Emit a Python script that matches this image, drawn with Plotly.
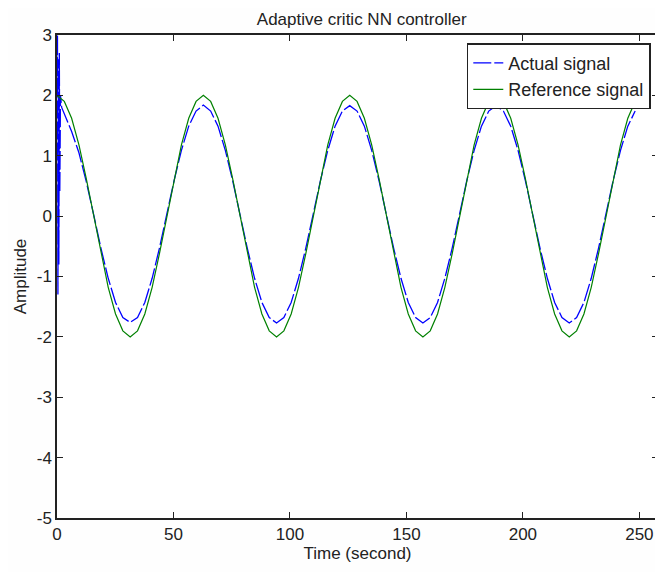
import plotly.graph_objects as go

# uniform sampling grid (seconds), 81 samples up to ~251 s
time = [round(k * 3.1416, 2) for k in range(81)]

reference_signal = [
    2.00, 1.90, 1.62, 1.18, 0.62, 0.00, -0.62, -1.18, -1.62, -1.90,
    -2.00, -1.90, -1.62, -1.18, -0.62, 0.00, 0.62, 1.18, 1.62, 1.90,
    2.00, 1.90, 1.62, 1.18, 0.62, 0.00, -0.62, -1.18, -1.62, -1.90,
    -2.00, -1.90, -1.62, -1.18, -0.62, 0.00, 0.62, 1.18, 1.62, 1.90,
    2.00, 1.90, 1.62, 1.18, 0.62, 0.00, -0.62, -1.18, -1.62, -1.90,
    -2.00, -1.90, -1.62, -1.18, -0.62, 0.00, 0.62, 1.18, 1.62, 1.90,
    2.00, 1.90, 1.62, 1.18, 0.62, 0.00, -0.62, -1.18, -1.62, -1.90,
    -2.00, -1.90, -1.62, -1.18, -0.62, 0.00, 0.62, 1.18, 1.62, 1.90,
    2.00,
]

# initial transient of the actual signal (first ~2 s)
transient_time = [0.0, 0.2, 0.4, 0.6, 0.8, 1.0, 1.2, 1.5, 2.0]
transient_values = [2.0, 3.0, -1.3, 2.6, -0.8, 2.7, 0.4, 2.0, 1.8]

# actual signal after the transient, on the sampling grid (from t≈3.14)
actual_values = [
    1.70, 1.40, 1.05, 0.57, 0.03, -0.53, -1.03, -1.43, -1.68,
    -1.76, -1.68, -1.43, -1.03, -0.53, 0.03, 0.59, 1.09, 1.49, 1.74,
    1.84, 1.74, 1.49, 1.09, 0.59, 0.03, -0.53, -1.03, -1.43, -1.68,
    -1.77, -1.68, -1.43, -1.03, -0.53, 0.03, 0.59, 1.09, 1.49, 1.74,
    1.83, 1.74, 1.49, 1.09, 0.59, 0.03, -0.53, -1.03, -1.43, -1.68,
    -1.77, -1.68, -1.43, -1.03, -0.53, 0.03, 0.59, 1.09, 1.49, 1.74,
    1.83, 1.74, 1.49, 1.09, 0.59, 0.03, -0.53, -1.03, -1.43, -1.68,
    -1.77, -1.68, -1.43, -1.03, -0.53, 0.03, 0.59, 1.09, 1.49, 1.74,
]

x_ticks = [0, 50, 100, 150, 200, 250]
y_ticks = [-5, -4, -3, -2, -1, 0, 1, 2, 3]
y_tick_labels = ["-5", "-4", "-3", "-2", "-1", "0", "1", "2", "3"]

actual_time = transient_time + time[1:]
actual_signal = transient_values + actual_values

FONT = "Liberation Sans, Arial, sans-serif"

fig = go.Figure()
fig.add_trace(go.Scatter(
    x=actual_time, y=actual_signal, mode="lines", name="Actual signal",
    line=dict(color="#0000ff", width=1.3, dash="18px,3px"),
))
fig.add_trace(go.Scatter(
    x=time, y=reference_signal, mode="lines", name="Reference signal",
    line=dict(color="#008000", width=1.2),
))

axis_common = dict(
    showline=True, linecolor="#222222", linewidth=1.5, mirror="ticks",
    ticks="inside", ticklen=6, tickcolor="#222222", showgrid=False,
    zeroline=False, tickfont=dict(family=FONT, size=17, color="#222222"),
)

fig.update_layout(
    width=655, height=564,
    margin=dict(l=49, r=3, t=27, b=54),
    paper_bgcolor="#fefefe", plot_bgcolor="white",
    font=dict(family=FONT, size=16, color="#222222"),
    title=dict(text="Adaptive critic NN controller", x=0.54, xanchor="center",
               y=0.981, yanchor="middle", font=dict(family=FONT, size=17)),
    xaxis=dict(range=[0, 258], tickvals=x_ticks,
               title=dict(text="Time (second)", standoff=2,
                          font=dict(family=FONT, size=17)),
               **axis_common),
    yaxis=dict(range=[-5, 3], tickvals=y_ticks, ticktext=y_tick_labels,
               title=dict(text="Amplitude", standoff=6,
                          font=dict(family=FONT, size=17)),
               **axis_common),
    legend=dict(x=0.988, xanchor="right", y=0.983, yanchor="top",
                bordercolor="#222222", borderwidth=1.5, bgcolor="white",
                font=dict(family=FONT, size=18), tracegroupgap=0),
    showlegend=True,
)

fig.write_html("out.html")
